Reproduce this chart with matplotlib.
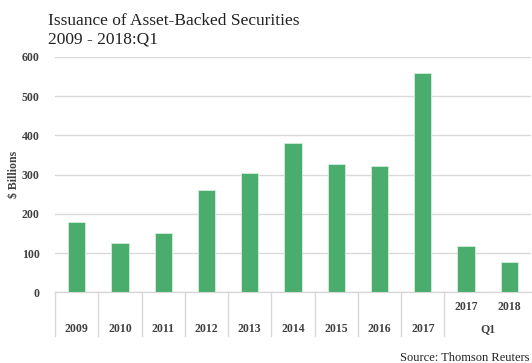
import matplotlib.pyplot as plt
import matplotlib.transforms as mtransforms
import numpy as np

plt.rcParams["font.family"] = ["Liberation Serif", "DejaVu Serif"]

years = ['2009', '2010', '2011', '2012', '2013', '2014', '2015', '2016', '2017']
q1_years = ['2017', '2018']
annual = [178, 125, 150, 260, 303, 380, 327, 321, 558]
q1 = [117, 76]

values = annual + q1
x = np.arange(len(values))

grid_col = '#d9d9d9'
bar_col = '#4aad6e'

fig = plt.figure(figsize=(5.32, 3.63), dpi=100)
ax = fig.add_axes([55 / 532, 70.7 / 363, 476 / 532, 235.3 / 363])

ax.bar(x, values, width=0.4, color=bar_col, edgecolor='#d6eedd', linewidth=0.6, zorder=3)

ax.set_xlim(-0.5, len(values) - 0.5)
ax.set_ylim(0, 600)
ax.set_yticks(np.arange(0, 601, 100))
ax.yaxis.grid(True, color=grid_col, linewidth=1.0, zorder=0)
ax.tick_params(axis='y', length=0, pad=11, labelsize=8.5, labelcolor='#404040')
for lbl in ax.get_yticklabels():
    lbl.set_fontweight('bold')
ax.set_xticks([])
for s in ['top', 'right', 'left']:
    ax.spines[s].set_visible(False)
ax.spines['bottom'].set_color(grid_col)
ax.spines['bottom'].set_linewidth(1.0)
ax.set_ylabel('$ Billions', fontsize=8.5, color='#404040', labelpad=1,
              fontweight='bold')

# category axis below the bars: data x, axes-fraction y
trans = mtransforms.blended_transform_factory(ax.transData, ax.transAxes)
sep_bottom = -44 / 235.3
for b in list(np.arange(len(annual) + 1) - 0.5):
    ax.plot([b, b], [0, sep_bottom], transform=trans, color=grid_col,
            linewidth=1.0, clip_on=False)

year_y = -37 / 235.3
sub_y = -15 / 235.3
lab = dict(fontsize=8.5, color='#404040', fontweight='bold', ha='center',
           va='center', transform=trans)
for i, yr in enumerate(years):
    ax.text(x[i], year_y, yr, **lab)
for j, yr in enumerate(q1_years):
    ax.text(x[len(annual) + j], sub_y, yr, **lab)
ax.text(x[len(annual):].mean(), year_y, 'Q1', **lab)

fig.text(48 / 532, 1 - 25 / 363, 'Issuance of Asset-Backed Securities',
         fontsize=12.5, color='#222222', va='baseline')
fig.text(48 / 532, 1 - 44 / 363, '2009 - 2018:Q1',
         fontsize=12.5, color='#222222', va='baseline')
fig.text(530 / 532, 1 - 361 / 363, 'Source: Thomson Reuters',
         fontsize=9, color='#222222', ha='right', va='baseline')

fig.savefig('out.png', dpi=100)
